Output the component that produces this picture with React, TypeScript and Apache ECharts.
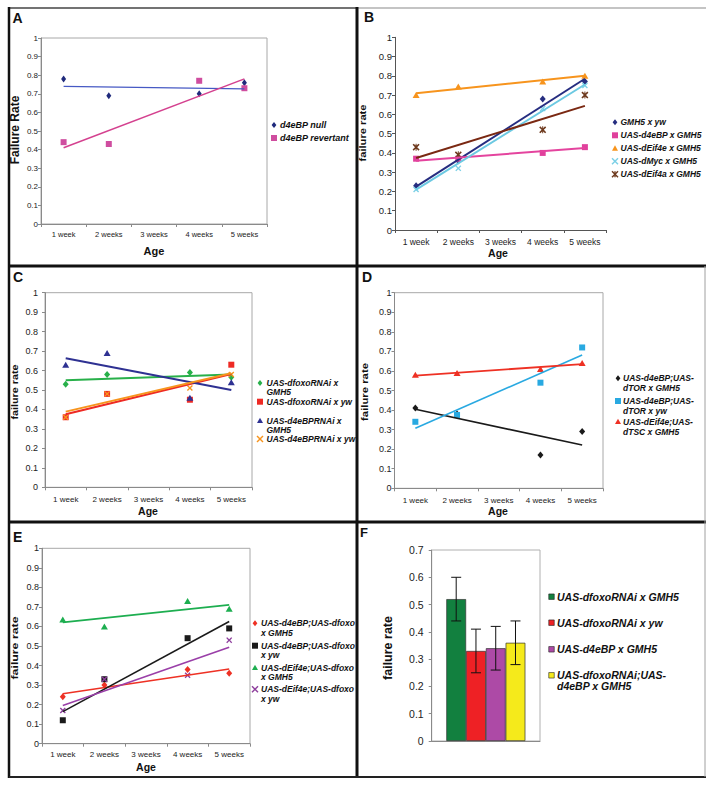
import React, { useEffect, useRef } from "react";
import * as echarts from "echarts";

// ---------- DATA ----------
const weeks = ["1 week", "2 weeks", "3 weeks", "4 weeks", "5 weeks"];

// Panel A
const aLabels = ["d4eBP null", "d4eBP revertant"];
const aNull = [0.78, 0.69, null, 0.7, 0.76];
const aRevertant = [0.44, 0.43, null, 0.77, 0.73];
const aNullTrend = [0.74, 0.726];
const aRevertantTrend = [0.41, 0.78];

// Panel B
const bLabels = ["GMH5 x yw", "UAS-d4eBP x GMH5", "UAS-dEif4e x GMH5", "UAS-dMyc x GMH5", "UAS-dEif4a x GMH5"];
const bGmh5Yw = [0.23, 0.36, null, 0.68, 0.77];
const bD4ebp = [0.37, 0.37, null, 0.4, 0.43];
const bEif4e = [0.7, 0.745, null, 0.77, 0.8];
const bMyc = [0.21, 0.32, null, 0.63, 0.75];
const bEif4a = [0.43, 0.39, null, 0.52, 0.7];
const bGmh5YwTrend = [0.225, 0.785];
const bD4ebpTrend = [0.36, 0.425];
const bEif4eTrend = [0.71, 0.8];
const bMycTrend = [0.21, 0.755];
const bEif4aTrend = [0.374, 0.644];

// Panel C
const cLabels = ["UAS-dfoxoRNAi x\nGMH5", "UAS-dfoxoRNAi x yw", "UAS-d4eBPRNAi x\nGMH5", "UAS-d4eBPRNAi x yw"];
const cFoxoGmh5 = [0.53, 0.58, null, 0.59, 0.565];
const cFoxoYw = [0.36, 0.48, null, 0.45, 0.63];
const cD4ebpGmh5 = [0.63, 0.69, null, 0.46, 0.54];
const cD4ebpYw = [0.36, 0.48, null, 0.51, 0.58];
const cFoxoGmh5Trend = [0.55, 0.58];
const cFoxoYwTrend = [0.375, 0.582];
const cD4ebpGmh5Trend = [0.663, 0.5];
const cD4ebpYwTrend = [0.389, 0.586];

// Panel D
const dLabels = ["UAS-d4eBP;UAS-\ndTOR x GMH5", "UAS-d4eBP;UAS-\ndTOR x yw", "UAS-dEif4e;UAS-\ndTSC x GMH5"];
const dTorGmh5 = [0.41, 0.38, null, 0.17, 0.29];
const dTorYw = [0.34, 0.375, null, 0.54, 0.72];
const dTscGmh5 = [0.58, 0.59, null, 0.61, 0.64];
const dTorGmh5Trend = [0.404, 0.221];
const dTorYwTrend = [0.307, 0.681];
const dTscGmh5Trend = [0.576, 0.635];

// Panel E
const eLabels = ["UAS-d4eBP;UAS-dfoxo\nx GMH5", "UAS-d4eBP;UAS-dfoxo\nx yw", "UAS-dEif4e;UAS-dfoxo\nx GMH5", "UAS-dEif4e;UAS-dfoxo\nx yw"];
const eD4ebpGmh5 = [0.24, 0.3, null, 0.38, 0.36];
const eD4ebpYw = [0.12, 0.33, null, 0.54, 0.59];
const eEif4eGmh5 = [0.635, 0.6, null, 0.73, 0.69];
const eEif4eYw = [0.17, 0.33, null, 0.35, 0.53];
const eD4ebpGmh5Trend = [0.256, 0.382];
const eD4ebpYwTrend = [0.164, 0.625];
const eEif4eGmh5Trend = [0.621, 0.71];
const eEif4eYwTrend = [0.195, 0.493];

// Panel F
const fLabels = ["UAS-dfoxoRNAi x GMH5", "UAS-dfoxoRNAi x yw", "UAS-d4eBP x GMH5", "UAS-dfoxoRNAi;UAS-\nd4eBP x GMH5"];
const fMeans = [0.52, 0.33, 0.34, 0.36];
const fLow = [0.44, 0.25, 0.26, 0.28];
const fHigh = [0.6, 0.41, 0.42, 0.44];

// ---------- STYLE / LAYOUT ----------
const FONT = "'Liberation Sans', Arial, Helvetica, sans-serif";
const X_PATH = "path://M0,1.6L1.6,0L5,3.4L8.4,0L10,1.6L6.6,5L10,8.4L8.4,10L5,6.6L1.6,10L0,8.4L3.4,5Z";
const STAR_PATH = X_PATH + "M4.3,0L5.7,0L5.7,10L4.3,10Z";
const SYM: Record<string, string> = { diamond: "diamond", rect: "rect", triangle: "triangle", x: X_PATH, star: STAR_PATH };
const F_GAP = 0.27;

const panels: any[] = [
  {
    grid: { left: 41, top: 38, width: 226, height: 186 }, box: true, axisColor: "#8a8a8a",
    yFont: 8, xFont: 7.5, yMargin: 3, xMargin: 6,
    legend: { mx: 274, tx: 280, ys: [125, 138], font: 9, lh: 10 },
    yTitle: { text: "Failure Rate", x: 15, y: 130, font: 12, sx: 1 },
    xTitle: { x: 154, y: 251, font: 11 }, letter: { t: "A", x: 12.5, y: 18 },
    marks: [
      { label: aLabels[0], values: aNull, trend: aNullTrend, color: "#1F2A7C", line: "#4659C4", sym: "diamond", size: [5, 7], lw: 1.2 },
      { label: aLabels[1], values: aRevertant, trend: aRevertantTrend, color: "#CF4D9F", line: "#D4418F", sym: "rect", size: [6, 6], lw: 1.5 },
    ],
  },
  {
    grid: { left: 395, top: 37.3, width: 211, height: 192.7 }, box: false, axisColor: "#555",
    yFont: 9.5, xFont: 8.5, yMargin: 3, xMargin: 7,
    legend: { mx: 615, tx: 620.5, ys: [122.3, 135.3, 148.3, 161.3, 174.3], font: 8.5, lh: 10 },
    yTitle: { text: "failure rate", x: 363, y: 133, font: 9, sx: 1.24 },
    xTitle: { x: 498, y: 253, font: 10.5 }, letter: { t: "B", x: 364, y: 17 },
    marks: [
      { label: bLabels[0], values: bGmh5Yw, trend: bGmh5YwTrend, color: "#262D80", line: "#262D80", sym: "diamond", size: [6, 7], lw: 2 },
      { label: bLabels[1], values: bD4ebp, trend: bD4ebpTrend, color: "#E0409C", line: "#E4449E", sym: "rect", size: [6, 6], lw: 2 },
      { label: bLabels[2], values: bEif4e, trend: bEif4eTrend, color: "#F7941D", line: "#F7941D", sym: "triangle", size: [7, 6], lw: 2 },
      { label: bLabels[3], values: bMyc, trend: bMycTrend, color: "#7CD0E6", line: "#6CC9E2", sym: "x", size: [6, 6], lw: 2 },
      { label: bLabels[4], values: bEif4a, trend: bEif4aTrend, color: "#6E3A1E", line: "#7A2812", sym: "star", size: [7, 7], lw: 2 },
    ],
  },
  {
    grid: { left: 45, top: 292.7, width: 207, height: 194.6 }, box: true, axisColor: "#8a8a8a",
    yFont: 9, xFont: 8, yMargin: 7, xMargin: 8,
    legend: { mx: 260, tx: 266.5, ys: [383, 401.7, 420.7, 439], font: 8.5, lh: 9 },
    yTitle: { text: "failure rate", x: 15, y: 392, font: 9, sx: 1.2 },
    xTitle: { x: 148, y: 511, font: 10.5 }, letter: { t: "C", x: 13, y: 277 },
    marks: [
      { label: cLabels[0], values: cFoxoGmh5, trend: cFoxoGmh5Trend, color: "#28B04A", line: "#28B04A", sym: "diamond", size: [6, 7], lw: 2 },
      { label: cLabels[1], values: cFoxoYw, trend: cFoxoYwTrend, color: "#EE2A24", line: "#EE2A24", sym: "rect", size: [6, 6], lw: 2 },
      { label: cLabels[2], values: cD4ebpGmh5, trend: cD4ebpGmh5Trend, color: "#2E3192", line: "#2E3192", sym: "triangle", size: [7, 6], lw: 2 },
      { label: cLabels[3], values: cD4ebpYw, trend: cD4ebpYwTrend, color: "#F7941D", line: "#F7941D", sym: "x", size: [6, 6], lw: 2 },
    ],
  },
  {
    grid: { left: 394.5, top: 292.7, width: 208.5, height: 195.6 }, box: true, axisColor: "#8a8a8a",
    yFont: 9, xFont: 8, yMargin: 3, xMargin: 8,
    legend: { mx: 618, tx: 623, ys: [378.3, 401, 421.7], font: 8.5, lh: 10 },
    yTitle: { text: "failure rate", x: 365, y: 392, font: 9, sx: 1.26 },
    xTitle: { x: 498, y: 511, font: 10.5 }, letter: { t: "D", x: 362, y: 277 },
    marks: [
      { label: dLabels[0], values: dTorGmh5, trend: dTorGmh5Trend, color: "#1A1A1A", line: "#1A1A1A", sym: "diamond", size: [6, 7], lw: 1.6 },
      { label: dLabels[1], values: dTorYw, trend: dTorYwTrend, color: "#29A9E1", line: "#29A9E1", sym: "rect", size: [6, 6], lw: 1.6 },
      { label: dLabels[2], values: dTscGmh5, trend: dTscGmh5Trend, color: "#EE3124", line: "#EE3124", sym: "triangle", size: [7, 6], lw: 1.8 },
    ],
  },
  {
    grid: { left: 42, top: 548.3, width: 208, height: 195.4 }, box: true, axisColor: "#8a8a8a",
    yFont: 9, xFont: 8, yMargin: 3, xMargin: 7,
    legend: { mx: 255, tx: 261, ys: [623.3, 645.7, 667.7, 689.3], font: 8.5, lh: 9.5 },
    yTitle: { text: "failure rate", x: 15, y: 648, font: 9, sx: 1.37 },
    xTitle: { x: 146, y: 767, font: 10.5 }, letter: { t: "E", x: 13, y: 537 },
    marks: [
      { label: eLabels[0], values: eD4ebpGmh5, trend: eD4ebpGmh5Trend, color: "#EE3124", line: "#EE3124", sym: "diamond", size: [6, 7], lw: 1.6 },
      { label: eLabels[1], values: eD4ebpYw, trend: eD4ebpYwTrend, color: "#1A1A1A", line: "#1A1A1A", sym: "rect", size: [6, 6], lw: 1.6 },
      { label: eLabels[2], values: eEif4eGmh5, trend: eEif4eGmh5Trend, color: "#1DAE50", line: "#1DAE50", sym: "triangle", size: [7, 6], lw: 1.8 },
      { label: eLabels[3], values: eEif4eYw, trend: eEif4eYwTrend, color: "#8E3F9D", line: "#9A3FA8", sym: "x", size: [6, 6], lw: 1.6 },
    ],
  },
];

const fPanel = {
  grid: { left: 431.7, top: 550, width: 108.3, height: 191 },
  colors: ["#12803F", "#EE2125", "#AD4AA6", "#F5EA1B"],
  legend: { mx: 551.5, tx: 557, ys: [596.7, 622.7, 649.3, 675.3], font: 10.5, lh: 10.5 },
  yTitle: { text: "failure rate", x: 388, y: 648, font: 12.5, sx: 1 },
  letter: { t: "F", x: 360, y: 532 },
};

// ---------- HELPERS ----------
function toPoints(values: (number | null)[]) {
  const pts: any[] = [];
  values.forEach((v, i) => {
    if (v !== null) pts.push([i, v]);
  });
  return pts;
}

function legendMarker(sym: string, x: number, y: number, s: number, color: string): any[] {
  const h = s / 2;
  if (sym === "diamond")
    return [{ type: "polygon", shape: { points: [[x, y - h], [x + h * 0.8, y], [x, y + h], [x - h * 0.8, y]] }, style: { fill: color } }];
  if (sym === "rect") return [{ type: "rect", shape: { x: x - h, y: y - h, width: s, height: s }, style: { fill: color } }];
  if (sym === "triangle")
    return [{ type: "polygon", shape: { points: [[x, y - h], [x + h, y + h * 0.8], [x - h, y + h * 0.8]] }, style: { fill: color } }];
  const segs = [
    [x - h, y - h, x + h, y + h],
    [x - h, y + h, x + h, y - h],
  ];
  if (sym === "star") segs.push([x, y - h, x, y + h]);
  return segs.map(([x1, y1, x2, y2]) => ({ type: "line", shape: { x1, y1, x2, y2 }, style: { stroke: color, lineWidth: 1.4 } }));
}

function txt(text: string, x: number, y: number, size: number, opts: any = {}) {
  return {
    type: "text",
    x,
    y,
    rotation: opts.rotation || 0,
    scaleX: opts.sx || 1,
    style: {
      text,
      fontSize: size,
      fontWeight: opts.weight || "bold",
      fontStyle: opts.italic ? "italic" : "normal",
      fontFamily: FONT,
      fill: "#111",
      textAlign: opts.align || "center",
      align: opts.align || "center",
      textVerticalAlign: opts.valign || "middle",
      verticalAlign: opts.valign || "middle",
      lineHeight: opts.lh,
    },
  };
}

function legendGraphics(legend: any, items: { label: string; sym: string; color: string }[], border?: boolean) {
  const out: any[] = [];
  items.forEach((it, i) => {
    const y = legend.ys[i];
    const s = border ? 5.5 : 6;
    legendMarker(it.sym, legend.mx, y, s, it.color).forEach((m) => {
      if (border) m.style = { ...m.style, stroke: "#222", lineWidth: 0.6 };
      out.push(m);
    });
    out.push(txt(it.label, legend.tx, y - legend.lh / 2, legend.font, { italic: true, align: "left", valign: "top", lh: legend.lh }));
  });
  return out;
}

function buildOption() {
  const grid: any[] = [];
  const xAxis: any[] = [];
  const yAxis: any[] = [];
  const series: any[] = [];
  const graphic: any[] = [];

  panels.forEach((p, gi) => {
    grid.push({ ...p.grid, show: p.box, borderColor: "#a8a8a8", borderWidth: 1, backgroundColor: "transparent" });
    xAxis.push({
      type: "category",
      gridIndex: gi,
      data: weeks,
      boundaryGap: true,
      axisLine: { lineStyle: { color: p.axisColor, width: 1 } },
      axisTick: { show: true, length: 3, lineStyle: { color: p.axisColor } },
      axisLabel: { interval: 0, fontSize: p.xFont, color: "#222", margin: p.xMargin, fontFamily: FONT },
      splitLine: { show: false },
    });
    yAxis.push({
      type: "value",
      gridIndex: gi,
      min: 0,
      max: 1,
      interval: 0.1,
      axisLine: { show: true, lineStyle: { color: p.axisColor, width: 1 } },
      axisTick: { show: true, length: 3, lineStyle: { color: p.axisColor } },
      axisLabel: { fontSize: p.yFont, color: "#222", margin: p.yMargin, fontFamily: FONT },
      splitLine: { show: false },
    });
    p.marks.forEach((m: any) => {
      series.push({
        type: "scatter",
        name: m.label,
        xAxisIndex: gi,
        yAxisIndex: gi,
        data: toPoints(m.values),
        symbol: SYM[m.sym],
        symbolSize: m.size,
        itemStyle: { color: m.color, opacity: 1 },
        z: 2,
      });
    });
    p.marks.forEach((m: any) => {
      series.push({
        type: "line",
        xAxisIndex: gi,
        yAxisIndex: gi,
        data: [
          [0, m.trend[0]],
          [weeks.length - 1, m.trend[1]],
        ],
        symbol: "none",
        silent: true,
        lineStyle: { color: m.line, width: m.lw },
        z: 3,
      });
    });
    graphic.push(...legendGraphics(p.legend, p.marks.map((m: any) => ({ label: m.label, sym: m.sym, color: m.color }))));
    graphic.push(txt(p.yTitle.text, p.yTitle.x, p.yTitle.y, p.yTitle.font, { rotation: Math.PI / 2, sx: p.yTitle.sx }));
    graphic.push(txt("Age", p.xTitle.x, p.xTitle.y, p.xTitle.font));
    graphic.push(txt(p.letter.t, p.letter.x, p.letter.y, 14, { align: "left" }));
  });

  // Panel F (bar chart)
  const fi = panels.length;
  grid.push({ ...fPanel.grid, show: true, borderColor: "#b0b0b0", borderWidth: 1, backgroundColor: "transparent" });
  xAxis.push({
    type: "category",
    gridIndex: fi,
    data: [""],
    axisLine: { lineStyle: { color: "#8a8a8a" } },
    axisTick: { show: false },
    axisLabel: { show: false },
  });
  yAxis.push({
    type: "value",
    gridIndex: fi,
    min: 0,
    max: 0.7,
    interval: 0.1,
    axisLine: { show: true, lineStyle: { color: "#8a8a8a" } },
    axisTick: { show: true, length: 3, lineStyle: { color: "#8a8a8a" } },
    axisLabel: { fontSize: 10.5, color: "#222", margin: 8, fontFamily: FONT },
    splitLine: { show: false },
  });
  fMeans.forEach((v, i) => {
    series.push({
      type: "bar",
      name: fLabels[i],
      xAxisIndex: fi,
      yAxisIndex: fi,
      data: [v],
      barGap: "0%",
      barCategoryGap: F_GAP * 100 + "%",
      itemStyle: { color: fPanel.colors[i], borderColor: "#333", borderWidth: 0.7 },
      z: 2,
    });
  });
  series.push({
    type: "custom",
    xAxisIndex: fi,
    yAxisIndex: fi,
    z: 4,
    silent: true,
    data: fMeans.map((_, i) => [0, fLow[i], fHigh[i], i]),
    encode: { x: 0, y: [1, 2] },
    renderItem: (params: any, api: any) => {
      const idx = api.value(3);
      const lo = api.coord([0, api.value(1)]);
      const hi = api.coord([0, api.value(2)]);
      const band = api.size([1, 0])[0];
      const barW = (band * (1 - F_GAP)) / fMeans.length;
      const cx = lo[0] + (idx - (fMeans.length - 1) / 2) * barW;
      const cap = 5;
      const st = { stroke: "#111", lineWidth: 1 };
      return {
        type: "group",
        children: [
          { type: "line", shape: { x1: cx, y1: lo[1], x2: cx, y2: hi[1] }, style: st },
          { type: "line", shape: { x1: cx - cap, y1: lo[1], x2: cx + cap, y2: lo[1] }, style: st },
          { type: "line", shape: { x1: cx - cap, y1: hi[1], x2: cx + cap, y2: hi[1] }, style: st },
        ],
      };
    },
  });
  graphic.push(...legendGraphics(fPanel.legend, fLabels.map((l, i) => ({ label: l, sym: "rect", color: fPanel.colors[i] })), true));
  graphic.push(txt(fPanel.yTitle.text, fPanel.yTitle.x, fPanel.yTitle.y, fPanel.yTitle.font, { rotation: Math.PI / 2 }));
  graphic.push(txt(fPanel.letter.t, fPanel.letter.x, fPanel.letter.y, 13, { align: "left" }));

  // Panel frames
  const frame = (x1: number, y1: number, x2: number, y2: number, stroke: string, w: number) => ({
    type: "line",
    shape: { x1, y1, x2, y2 },
    style: { stroke, lineWidth: w },
    z: 10,
  });
  graphic.push(
    frame(9, 8, 357, 8, "#444", 1.5),
    frame(357, 8, 706, 8, "#8a8a8a", 1.2),
    frame(9, 7, 9, 778, "#111", 2.5),
    frame(357, 7, 357, 778, "#111", 3),
    frame(9, 266, 706, 266, "#111", 3),
    frame(9, 522, 706, 522, "#111", 3),
    frame(9, 777, 706, 777, "#222", 2),
    frame(705, 266, 705, 777, "#a0a0a0", 1)
  );

  return {
    animation: false,
    backgroundColor: "#fff",
    grid,
    xAxis,
    yAxis,
    series,
    graphic: { elements: graphic },
  };
}

export default function App() {
  const ref = useRef<HTMLDivElement>(null);
  useEffect(() => {
    const chart = echarts.init(ref.current!, null, { renderer: "svg" });
    chart.setOption(buildOption() as any);
    return () => chart.dispose();
  }, []);
  return (
    <div
      ref={ref}
      style={{ position: "absolute", left: 0, top: 0, width: 714, height: 786, background: "#fff" }}
    />
  );
}
